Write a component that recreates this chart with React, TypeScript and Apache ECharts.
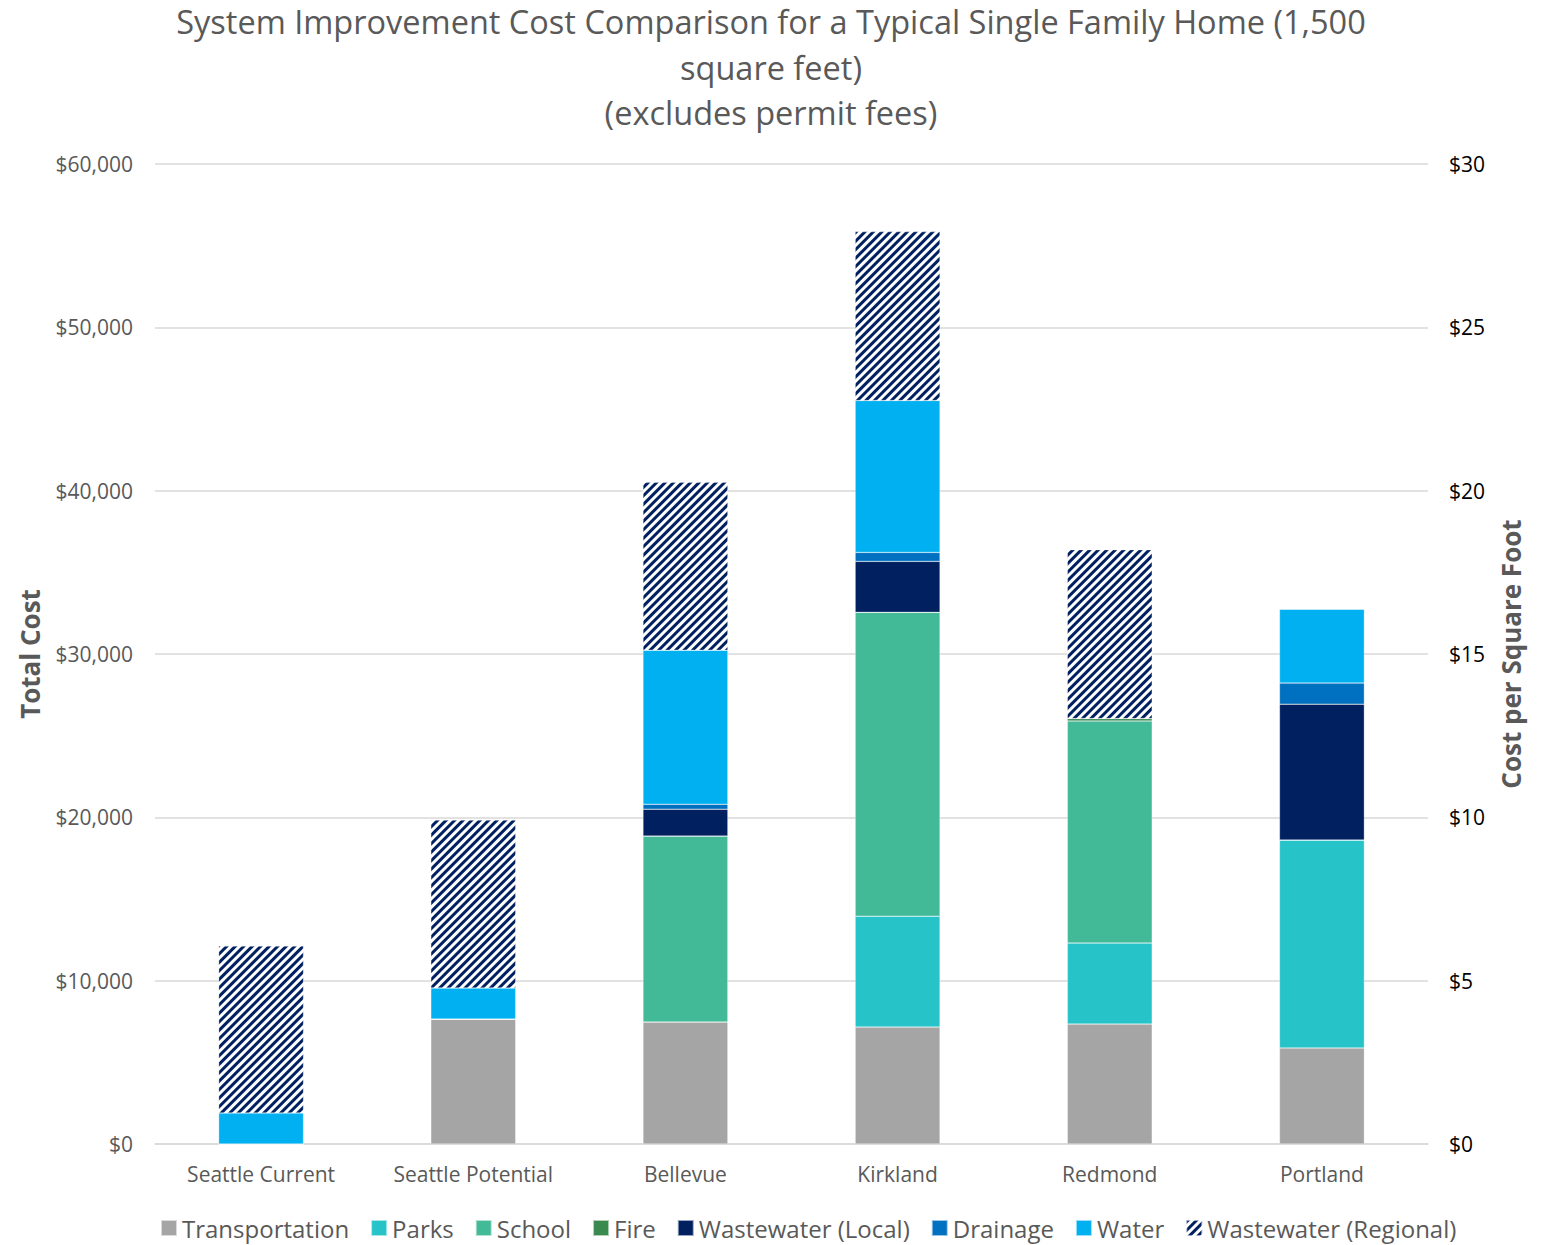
import React, { useEffect, useRef } from "react";
import * as echarts from "echarts";

const categories = ["Seattle Current", "Seattle Potential", "Bellevue", "Kirkland", "Redmond", "Portland"];
const transportation = [0, 7650, 7470, 7160, 7340, 5880];
const parks = [0, 0, 0, 6790, 4960, 12730];
const school = [0, 0, 11380, 18600, 13600, 0];
const fire = [0, 0, 0, 0, 150, 0];
const wastewaterLocal = [0, 0, 1650, 3120, 0, 8320];
const drainage = [0, 0, 300, 550, 0, 1290];
const water = [1900, 1900, 9430, 9300, 0, 4530];
const wastewaterRegional = [10220, 10280, 10280, 10340, 10340, 0];
const leftTicks = [0, 10000, 20000, 30000, 40000, 50000, 60000];
const rightTicks = [0, 5, 10, 15, 20, 25, 30];

const FONT = "'Open Sans', 'Noto Sans', sans-serif";

export default function App() {
  const ref = useRef<HTMLDivElement>(null);
  useEffect(() => {
    document.body.style.margin = "0";
    const chart = echarts.init(ref.current!, null, { renderer: "svg" });
    const mk = (name: string, data: number[], color: string, extra: any = {}) => ({
      name,
      type: "bar",
      stack: "total",
      data,
      barWidth: "40%",
      yAxisIndex: 0,
      itemStyle: { color, borderColor: "rgba(255,255,255,0.6)", borderWidth: 0.5, ...extra },
      emphasis: { disabled: true },
    });
    chart.setOption({
      animation: false,
      textStyle: { fontFamily: FONT },
      title: {
        text: "System Improvement Cost Comparison for a Typical Single Family Home (1,500\nsquare feet)\n(excludes permit fees)",
        left: 766,
        textAlign: "center",
        top: -6,
        textStyle: { fontSize: 32.5, fontWeight: "normal", color: "#595959", lineHeight: 45.5, fontFamily: FONT },
      },
      legend: {
        bottom: 0,
        left: 155,
        itemWidth: 16,
        itemHeight: 16,
        itemGap: 21,
        icon: "rect",
        textStyle: { fontSize: 24, color: "#595959" },
      },
      grid: { left: 155, right: 124, top: 164, bottom: 101 },
      xAxis: {
        type: "category",
        data: categories,
        axisTick: { show: false },
        axisLine: { lineStyle: { color: "#d9d9d9", width: 1.5 } },
        axisLabel: { fontSize: 21, color: "#595959", margin: 19 },
      },
      yAxis: [
        {
          type: "value",
          min: 0,
          max: 60000,
          interval: 10000,
          name: "Total Cost",
          nameLocation: "middle",
          nameGap: 112,
          nameTextStyle: { fontSize: 26, fontWeight: "bold", color: "#595959" },
          axisLabel: {
            fontSize: 21,
            color: "#595959",
            margin: 22,
            formatter: (v: number) => "$" + v.toLocaleString("en-US"),
          },
          splitLine: { lineStyle: { color: "#d9d9d9", width: 1.5 } },
          axisLine: { show: false },
          axisTick: { show: false },
        },
        {
          type: "value",
          min: 0,
          max: 30,
          interval: 5,
          position: "right",
          name: "Cost per Square Foot",
          nameLocation: "middle",
          nameGap: 70,
          nameTextStyle: { fontSize: 26, fontWeight: "bold", color: "#595959" },
          axisLabel: {
            fontSize: 21,
            color: "#000000",
            margin: 21,
            formatter: (v: number) => "$" + v,
          },
          splitLine: { show: false },
          axisLine: { show: false },
          axisTick: { show: false },
        },
      ],
      series: [
        mk("Transportation", transportation, "#A5A5A5"),
        mk("Parks", parks, "#26C4C9"),
        mk("School", school, "#43BA97"),
        mk("Fire", fire, "#3A8A50"),
        mk("Wastewater (Local)", wastewaterLocal, "#002060"),
        mk("Drainage", drainage, "#0070C0"),
        mk("Water", water, "#00B0F0"),
        mk("Wastewater (Regional)", wastewaterRegional, "#ffffff", {
          decal: {
            symbol: "rect",
            symbolSize: 1,
            color: "#002060",
            backgroundColor: "#ffffff",
            dashArrayX: [1, 0],
            dashArrayY: [3, 3],
            rotation: -Math.PI / 4,
          },
        }),
      ],
    });
    return () => chart.dispose();
  }, []);
  return <div ref={ref} style={{ width: 1552, height: 1245 }} />;
}
